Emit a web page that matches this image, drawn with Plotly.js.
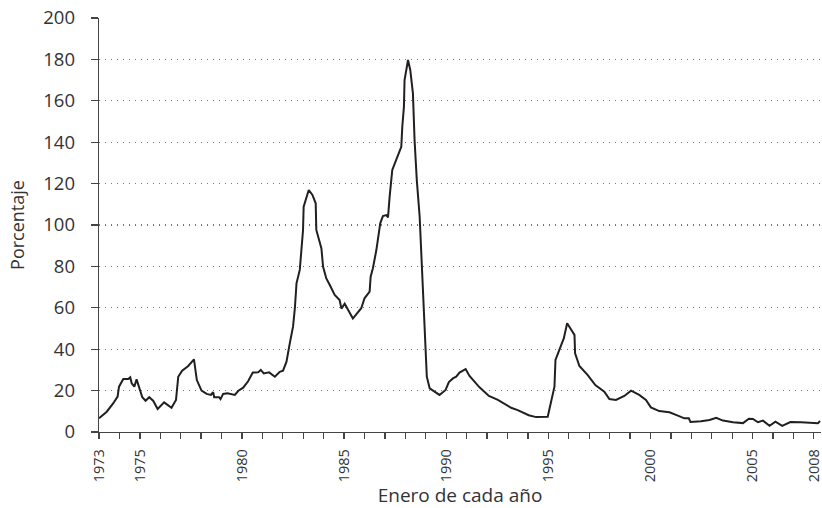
<!DOCTYPE html>
<html>
<head>
<meta charset="utf-8">
<script src="https://cdn.plot.ly/plotly-3.0.1.min.js"></script>
<style>html,body{margin:0;padding:0;background:#fff;}#chart{width:822px;height:508px;}</style>
</head>
<body>
<div id="chart"></div>
<script>
// Fecha (año decimal) y porcentaje
const fecha = [1973.0,1973.38,1973.7,1973.91,1973.98,1974.19,1974.43,1974.53,1974.6,1974.73,1974.84,1974.97,
1975.12,1975.28,1975.46,1975.66,1975.87,1976.19,1976.55,1976.77,1976.88,1977.07,1977.37,1977.65,1977.79,
1978.02,1978.27,1978.48,1978.59,1978.64,1978.88,1978.95,1979.08,1979.29,1979.65,1979.81,1980.06,1980.3,
1980.53,1980.79,1980.92,1981.07,1981.33,1981.61,1981.85,1982.01,1982.18,1982.34,1982.5,1982.59,1982.67,
1982.83,1982.91,1982.99,1983.02,1983.15,1983.27,1983.45,1983.61,1983.64,1983.89,1983.97,1984.13,1984.3,
1984.54,1984.78,1984.87,1985.03,1985.43,1985.84,1986.0,1986.25,1986.3,1986.41,1986.58,1986.77,1986.9,
1987.07,1987.15,1987.23,1987.36,1987.56,1987.8,1987.85,1987.93,1987.96,1988.13,1988.24,1988.37,1988.45,
1988.56,1988.7,1988.78,1988.89,1988.99,1989.05,1989.19,1989.43,1989.67,1989.97,1990.13,1990.33,1990.49,
1990.65,1990.95,1991.14,1991.63,1992.09,1992.53,1993.18,1993.5,1994.04,1994.4,1994.97,1995.14,1995.3,
1995.35,1995.58,1995.76,1995.92,1996.28,1996.31,1996.52,1996.93,1997.3,1997.74,1997.99,1998.31,1998.72,
1999.05,1999.45,1999.78,2000.02,2000.43,2000.93,2001.34,2001.66,2001.88,2001.96,2002.48,2002.89,2003.22,
2003.55,2004.04,2004.53,2004.82,2005.02,2005.26,2005.51,2005.83,2006.12,2006.45,2006.85,2007.37,2007.95,
2008.2,2008.3];
const porcentaje = [6.6,9.8,13.9,17.1,21.9,25.6,25.6,26.4,23.5,21.9,25.4,21.1,
16.8,15.1,16.8,15.0,11.1,14.3,11.7,15.5,26.7,29.6,31.9,35.1,25.1,
20.0,18.4,17.9,19.2,16.8,16.8,15.9,18.4,18.7,17.9,19.8,21.4,24.5,
28.7,28.8,30.0,28.3,28.8,26.7,29.1,29.6,34.0,42.8,50.9,59.8,71.8,
78.3,87.1,97.6,108.8,112.9,116.9,114.5,110.5,97.6,88.7,79.9,74.2,71.0,
66.2,63.8,59.6,62.0,54.8,59.8,64.6,67.8,75.0,79.1,87.9,100.8,104.3,
104.8,103.7,113.7,126.6,131.7,137.8,147.5,157.2,170.0,179.7,174.9,163.6,141.1,
121.7,104.0,86.3,63.8,41.2,26.7,21.1,19.5,17.9,20.3,24.1,25.9,26.7,
28.7,30.4,27.1,21.6,17.4,15.5,11.7,10.6,8.1,7.2,7.4,15.5,21.9,
34.8,40.4,45.3,52.5,46.9,38.0,31.9,27.5,22.7,19.5,15.9,15.5,17.4,
20.0,17.9,15.5,11.9,10.1,9.5,7.9,6.6,6.6,4.8,5.2,5.8,6.9,
5.5,4.7,4.3,6.4,6.3,4.7,5.5,3.0,5.0,3.0,4.8,4.7,4.2,
4.2,5.3];

const anioInicio = 1973, anioFin = 2008;
const aniosRotulados = [1973,1975,1980,1985,1990,1995,2000,2005,2008];
const yTicks = [0,20,40,60,80,100,120,140,160,180,200];

const tickvals = [], ticktext = [];
for (let a = anioInicio; a <= anioFin; a++) {
  tickvals.push(a);
  ticktext.push(aniosRotulados.includes(a) ? String(a) : '');
}

const trace = {
  x: fecha, y: porcentaje, type: 'scatter', mode: 'lines',
  line: {color: '#231f20', width: 2}, hoverinfo: 'skip'
};

const layout = {
  width: 822, height: 508,
  margin: {l: 99, r: 1, t: 18, b: 76},
  paper_bgcolor: '#fff', plot_bgcolor: '#fff',
  showlegend: false,
  font: {family: 'Open Sans, sans-serif', color: '#333'},
  xaxis: {
    range: [1973, 2008.35],
    tickmode: 'array', tickvals: tickvals, ticktext: ticktext,
    tickangle: -90, ticklabeloverflow: 'allow', ticklabelstandoff: 4,
    ticks: 'outside', ticklen: 6, tickwidth: 1.3, tickcolor: '#444',
    showline: true, linecolor: '#444', linewidth: 1.3,
    showgrid: false, zeroline: false,
    tickfont: {size: 14.5, color: '#333'},
    title: {text: 'Enero de cada año', font: {size: 19, color: '#333'}, standoff: 10}
  },
  yaxis: {
    range: [0, 200],
    tickmode: 'array', tickvals: yTicks,
    ticks: 'outside', ticklen: 7, tickwidth: 1.3, tickcolor: '#444',
    ticklabelstandoff: 12,
    showline: true, linecolor: '#444', linewidth: 1.3,
    showgrid: true, gridcolor: '#777', gridwidth: 1.2, griddash: '1.2px,4.8px',
    zeroline: false,
    tickfont: {size: 18.5, color: '#333'},
    title: {text: 'Porcentaje', font: {size: 18, color: '#333'}, standoff: 14}
  }
};

Plotly.newPlot('chart', [trace], layout, {displayModeBar: false, staticPlot: true});
</script>
</body>
</html>
